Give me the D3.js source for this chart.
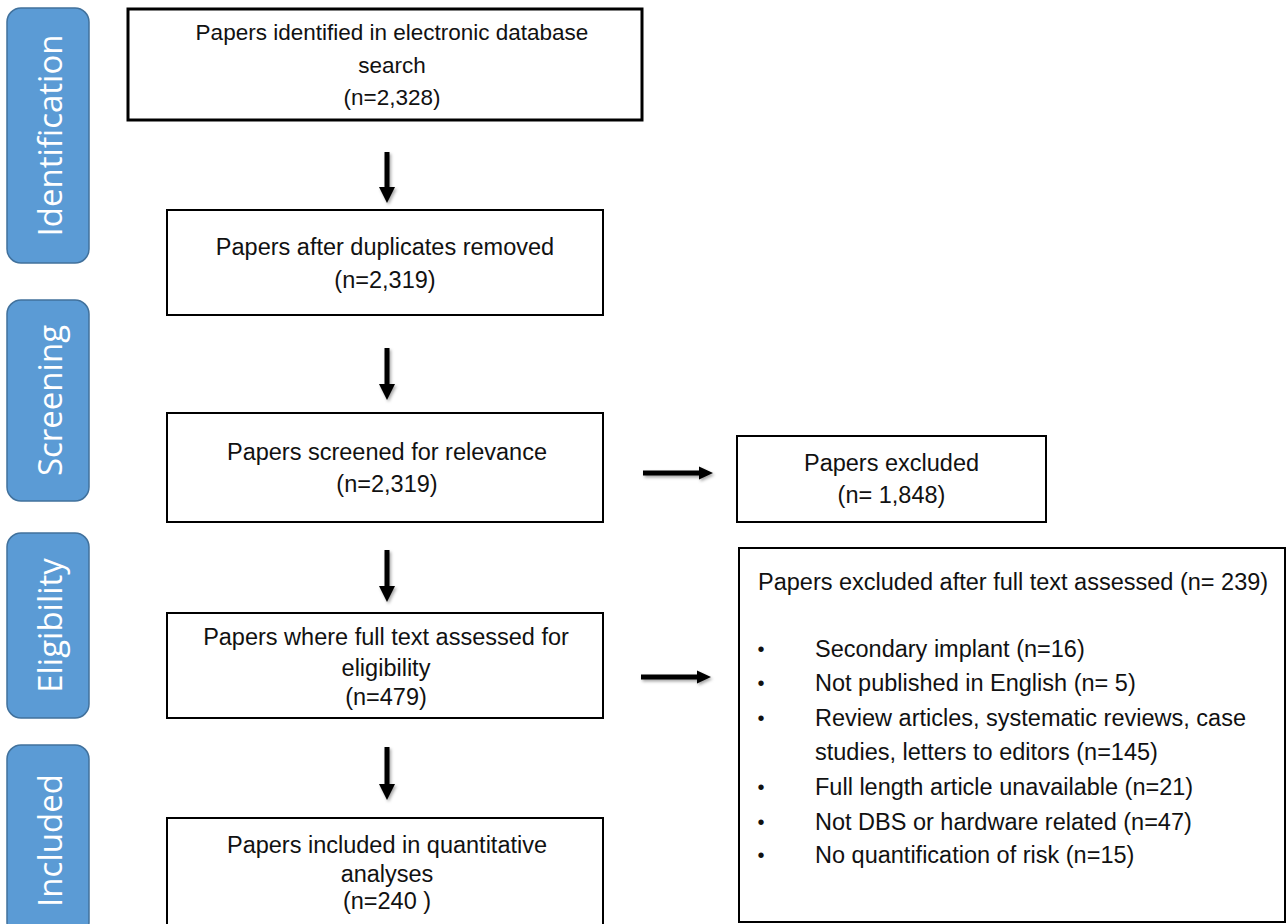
<!DOCTYPE html>
<html>
<head>
<meta charset="utf-8">
<script src="https://cdn.jsdelivr.net/npm/d3@7"></script>
<style>
  html, body { margin: 0; padding: 0; background: #fff; }
  svg { display: block; }
</style>
</head>
<body>
<svg id="chart" width="1287" height="924"></svg>
<script>
// ---------- DATA ----------
const stages = ["Identification", "Screening", "Eligibility", "Included"];

const mainBoxLines = [
  ["Papers identified in electronic database", "search", "(n=2,328)"],
  ["Papers after duplicates removed", "(n=2,319)"],
  ["Papers screened for relevance", "(n=2,319)"],
  ["Papers where full text assessed for", "eligibility", "(n=479)"],
  ["Papers included in quantitative", "analyses", "(n=240 )"]
];

const excludedLines = ["Papers excluded", "(n= 1,848)"];

const fullTextTitle = "Papers excluded after full text assessed (n= 239)";
const fullTextReasons = [
  ["Secondary implant (n=16)"],
  ["Not published in English (n= 5)"],
  ["Review articles, systematic reviews, case", "studies, letters to editors (n=145)"],
  ["Full length article unavailable (n=21)"],
  ["Not DBS or hardware related (n=47)"],
  ["No quantification of risk (n=15)"]
];

// ---------- LAYOUT (positions / sizes, separate from data) ----------
const stageBoxes = [
  {y0: 8, y1: 263},
  {y0: 300, y1: 501},
  {y0: 533, y1: 718},
  {y0: 745, y1: 936}
];
const mainBoxes = [
  {x0: 128, x1: 642, y0: 9, y1: 120, stroke: 3, size: 22.5, cx: 392, lineY: [32, 65, 97]},
  {x0: 167, x1: 603, y0: 210, y1: 315, stroke: 2, size: 23.5, cx: 385, lineY: [247, 280]},
  {x0: 167, x1: 603, y0: 413, y1: 522, stroke: 2, size: 23.5, cx: 387, lineY: [452, 484]},
  {x0: 167, x1: 603, y0: 613, y1: 718, stroke: 2, size: 23.5, cx: 386, lineY: [637, 668, 697]},
  {x0: 167, x1: 603, y0: 818, y1: 940, stroke: 2, size: 23.5, cx: 387, lineY: [845, 874, 901]}
];
const vArrows = [
  {x: 387, y0: 152, y1: 203},
  {x: 387, y0: 348, y1: 400},
  {x: 387, y0: 550, y1: 602},
  {x: 387, y0: 747, y1: 800}
];
const hArrows = [
  {y: 473, x0: 643, x1: 713},
  {y: 677, x0: 641, x1: 711}
];
const exclBox = {x0: 737, x1: 1046, y0: 436, y1: 522, lineY: [463, 495]};
const ftBox = {x0: 739, x1: 1285, y0: 548, y1: 922};
const reasonLineY = [[649], [683], [718, 752], [787], [822], [855]];

// ---------- DRAW ----------
const svg = d3.select("#chart");
const defs = svg.append("defs");
const f = defs.append("filter").attr("id", "shadow")
  .attr("x", "-30%").attr("y", "-30%").attr("width", "160%").attr("height", "160%");
f.append("feDropShadow").attr("dx", 1.5).attr("dy", 2).attr("stdDeviation", 1.5)
  .attr("flood-color", "#000").attr("flood-opacity", 0.35);

const boxFont = "'Liberation Sans', Arial, sans-serif";

// Stage labels
const stageG = svg.append("g").selectAll("g").data(stages).join("g");
stageG.append("rect")
  .attr("x", 7).attr("width", 82)
  .attr("y", (d, i) => stageBoxes[i].y0)
  .attr("height", (d, i) => stageBoxes[i].y1 - stageBoxes[i].y0)
  .attr("rx", 14).attr("ry", 14)
  .attr("fill", "#5b9bd5").attr("stroke", "#41719c").attr("stroke-width", 1.5);
stageG.append("text")
  .attr("transform", (d, i) => `translate(49,${(stageBoxes[i].y0 + stageBoxes[i].y1) / 2}) rotate(-90)`)
  .attr("text-anchor", "middle").attr("dominant-baseline", "central")
  .attr("fill", "#fff")
  .attr("font-family", "'Open Sans', sans-serif")
  .attr("font-size", 33)
  .text(d => d);

// Main boxes
const mainG = svg.append("g").selectAll("g").data(mainBoxLines).join("g");
mainG.append("rect")
  .attr("x", (d, i) => mainBoxes[i].x0).attr("y", (d, i) => mainBoxes[i].y0)
  .attr("width", (d, i) => mainBoxes[i].x1 - mainBoxes[i].x0)
  .attr("height", (d, i) => mainBoxes[i].y1 - mainBoxes[i].y0)
  .attr("fill", "#fff").attr("stroke", "#000")
  .attr("stroke-width", (d, i) => mainBoxes[i].stroke);
mainG.each(function (lines, i) {
  const b = mainBoxes[i];
  d3.select(this).selectAll("text").data(lines).join("text")
    .attr("x", b.cx)
    .attr("y", (t, j) => b.lineY[j])
    .attr("text-anchor", "middle").attr("dominant-baseline", "central")
    .attr("font-family", boxFont).attr("font-size", b.size).attr("fill", "#111")
    .text(t => t);
});

// Excluded box
const exG = svg.append("g");
exG.append("rect")
  .attr("x", exclBox.x0).attr("y", exclBox.y0)
  .attr("width", exclBox.x1 - exclBox.x0).attr("height", exclBox.y1 - exclBox.y0)
  .attr("fill", "#fff").attr("stroke", "#000").attr("stroke-width", 2);
exG.selectAll("text").data(excludedLines).join("text")
  .attr("x", (exclBox.x0 + exclBox.x1) / 2)
  .attr("y", (t, j) => exclBox.lineY[j])
  .attr("text-anchor", "middle").attr("dominant-baseline", "central")
  .attr("font-family", boxFont).attr("font-size", 23.5).attr("fill", "#111")
  .text(t => t);

// Full text excluded box
const ftG = svg.append("g");
ftG.append("rect")
  .attr("x", ftBox.x0).attr("y", ftBox.y0)
  .attr("width", ftBox.x1 - ftBox.x0).attr("height", ftBox.y1 - ftBox.y0)
  .attr("fill", "#fff").attr("stroke", "#000").attr("stroke-width", 2);
ftG.append("text")
  .attr("x", 758).attr("y", 582)
  .attr("dominant-baseline", "central")
  .attr("font-family", boxFont).attr("font-size", 23.5).attr("fill", "#111")
  .text(fullTextTitle);
const rG = ftG.selectAll("g.reason").data(fullTextReasons).join("g").attr("class", "reason");
rG.append("text")
  .attr("x", 761).attr("y", (d, i) => reasonLineY[i][0])
  .attr("text-anchor", "middle").attr("dominant-baseline", "central")
  .attr("font-family", boxFont).attr("font-size", 20).attr("fill", "#111")
  .text("•");
rG.each(function (lines, i) {
  d3.select(this).selectAll("text.line").data(lines).join("text").attr("class", "line")
    .attr("x", 815).attr("y", (t, j) => reasonLineY[i][j])
    .attr("dominant-baseline", "central")
    .attr("font-family", boxFont).attr("font-size", 23.5).attr("fill", "#111")
    .text(t => t);
});

// Arrows
const arrowG = svg.append("g").attr("filter", "url(#shadow)");
const head = 16, headW = 8, shaft = 5;
arrowG.selectAll("path.v").data(vArrows).join("path").attr("class", "v")
  .attr("d", a => {
    const p = d3.path();
    p.moveTo(a.x - shaft / 2, a.y0);
    p.lineTo(a.x + shaft / 2, a.y0);
    p.lineTo(a.x + shaft / 2, a.y1 - head);
    p.lineTo(a.x + headW, a.y1 - head);
    p.lineTo(a.x, a.y1);
    p.lineTo(a.x - headW, a.y1 - head);
    p.lineTo(a.x - shaft / 2, a.y1 - head);
    p.closePath();
    return p.toString();
  })
  .attr("fill", "#000");
const hHead = 14, hHeadW = 6.5;
arrowG.selectAll("path.h").data(hArrows).join("path").attr("class", "h")
  .attr("d", a => {
    const p = d3.path();
    p.moveTo(a.x0, a.y - shaft / 2);
    p.lineTo(a.x1 - hHead, a.y - shaft / 2);
    p.lineTo(a.x1 - hHead, a.y - hHeadW);
    p.lineTo(a.x1, a.y);
    p.lineTo(a.x1 - hHead, a.y + hHeadW);
    p.lineTo(a.x1 - hHead, a.y + shaft / 2);
    p.lineTo(a.x0, a.y + shaft / 2);
    p.closePath();
    return p.toString();
  })
  .attr("fill", "#000");
</script>
</body>
</html>
